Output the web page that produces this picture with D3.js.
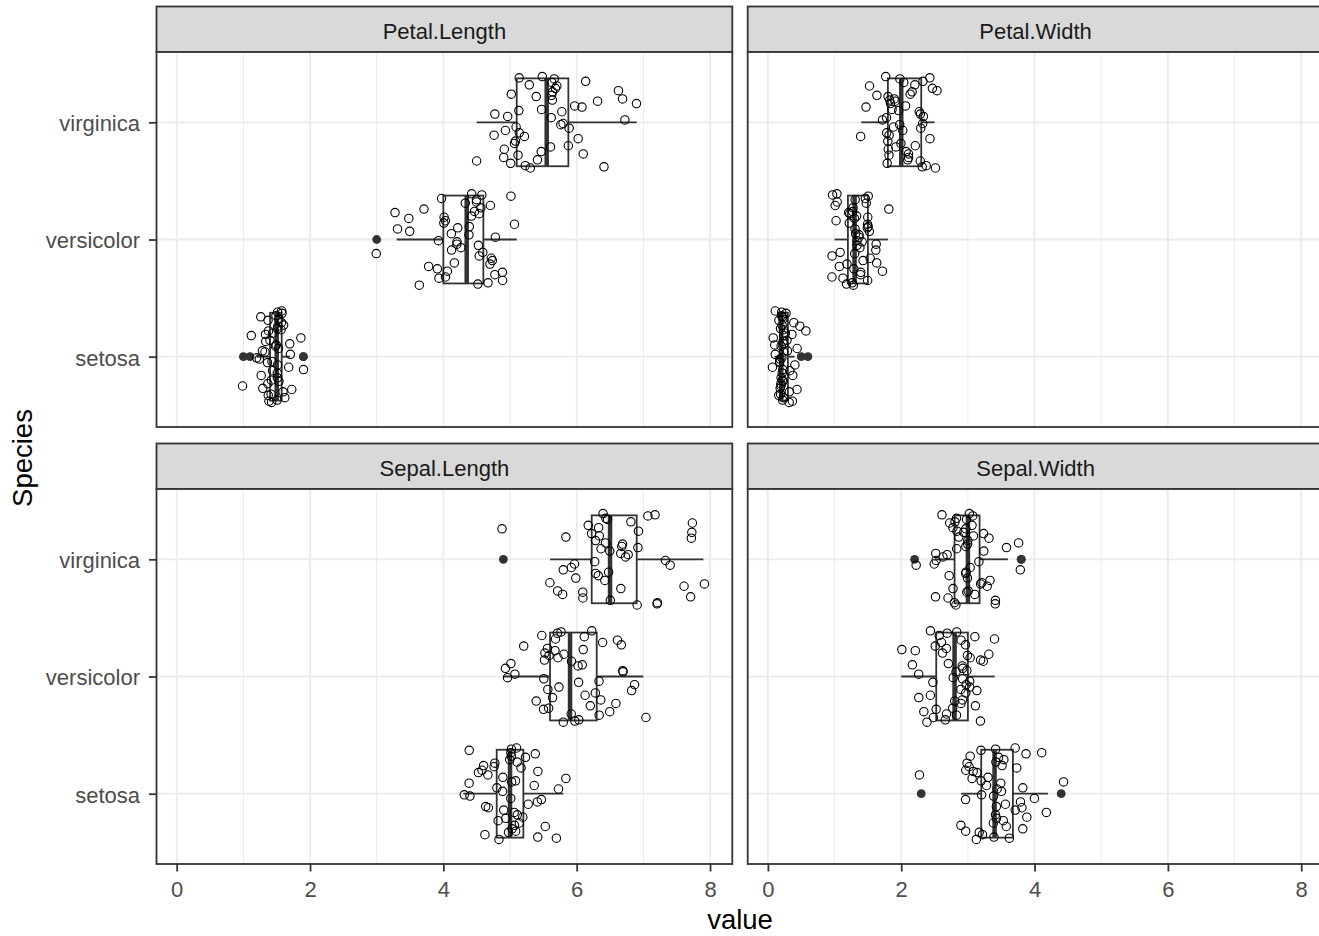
<!DOCTYPE html>
<html>
<head>
<meta charset="utf-8">
<script src="https://cdn.jsdelivr.net/npm/d3@7"></script>
<style>
  body { margin: 0; background: #fff; }
  text { font-family: "Liberation Sans", Arial, sans-serif; }
</style>
</head>
<body>
<script>
const species = ["setosa", "versicolor", "virginica"]
const measures = ["Petal.Length", "Petal.Width", "Sepal.Length", "Sepal.Width"]
const xTicks = [0, 2, 4, 6, 8]
const xMinor = [1, 3, 5, 7]

// iris: 50 filas setosa, 50 versicolor, 50 virginica
const sepalLength = [
  5.1,4.9,4.7,4.6,5.0,5.4,4.6,5.0,4.4,4.9,5.4,4.8,4.8,4.3,5.8,5.7,5.4,5.1,5.7,5.1,5.4,5.1,4.6,5.1,4.8,
  5.0,5.0,5.2,5.2,4.7,4.8,5.4,5.2,5.5,4.9,5.0,5.5,4.9,4.4,5.1,5.0,4.5,4.4,5.0,5.1,4.8,5.1,4.6,5.3,5.0,
  7.0,6.4,6.9,5.5,6.5,5.7,6.3,4.9,6.6,5.2,5.0,5.9,6.0,6.1,5.6,6.7,5.6,5.8,6.2,5.6,5.9,6.1,6.3,6.1,6.4,
  6.6,6.8,6.7,6.0,5.7,5.5,5.5,5.8,6.0,5.4,6.0,6.7,6.3,5.6,5.5,5.5,6.1,5.8,5.0,5.6,5.7,5.7,6.2,5.1,5.7,
  6.3,5.8,7.1,6.3,6.5,7.6,4.9,7.3,6.7,7.2,6.5,6.4,6.8,5.7,5.8,6.4,6.5,7.7,7.7,6.0,6.9,5.6,7.7,6.3,6.7,
  7.2,6.2,6.1,6.4,7.2,7.4,7.9,6.4,6.3,6.1,7.7,6.3,6.4,6.0,6.9,6.7,6.9,5.8,6.8,6.7,6.7,6.3,6.5,6.2,5.9
]
const sepalWidth = [
  3.5,3.0,3.2,3.1,3.6,3.9,3.4,3.4,2.9,3.1,3.7,3.4,3.0,3.0,4.0,4.4,3.9,3.5,3.8,3.8,3.4,3.7,3.6,3.3,3.4,
  3.0,3.4,3.5,3.4,3.2,3.1,3.4,4.1,4.2,3.1,3.2,3.5,3.6,3.0,3.4,3.5,2.3,3.2,3.5,3.8,3.0,3.8,3.2,3.7,3.3,
  3.2,3.2,3.1,2.3,2.8,2.8,3.3,2.4,2.9,2.7,2.0,3.0,2.2,2.9,2.9,3.1,3.0,2.7,2.2,2.5,3.2,2.8,2.5,2.8,2.9,
  3.0,2.8,3.0,2.9,2.6,2.4,2.4,2.7,2.7,3.0,3.4,3.1,2.3,3.0,2.5,2.6,3.0,2.6,2.3,2.7,3.0,2.9,2.9,2.5,2.8,
  3.3,2.7,3.0,2.9,3.0,3.0,2.5,2.9,2.5,3.6,3.2,2.7,3.0,2.5,2.8,3.2,3.0,3.8,2.6,2.2,3.2,2.8,2.8,2.7,3.3,
  3.2,2.8,3.0,2.8,3.0,2.8,3.8,2.8,2.8,2.6,3.0,3.4,3.1,3.0,3.1,3.1,3.1,2.7,3.2,3.3,3.0,2.5,3.0,3.4,3.0
]
const petalLength = [
  1.4,1.4,1.3,1.5,1.4,1.7,1.4,1.5,1.4,1.5,1.5,1.6,1.4,1.1,1.2,1.5,1.3,1.4,1.7,1.5,1.7,1.5,1.0,1.7,1.9,
  1.6,1.6,1.5,1.4,1.6,1.6,1.5,1.5,1.4,1.5,1.2,1.3,1.4,1.3,1.5,1.3,1.3,1.3,1.6,1.9,1.4,1.6,1.4,1.5,1.4,
  4.7,4.5,4.9,4.0,4.6,4.5,4.7,3.3,4.6,3.9,3.5,4.2,4.0,4.7,3.6,4.4,4.5,4.1,4.5,3.9,4.8,4.0,4.9,4.7,4.3,
  4.4,4.8,5.0,4.5,3.5,3.8,3.7,3.9,5.1,4.5,4.5,4.7,4.4,4.1,4.0,4.4,4.6,4.0,3.3,4.2,4.2,4.2,4.3,3.0,4.1,
  6.0,5.1,5.9,5.6,5.8,6.6,4.5,6.3,5.8,6.1,5.1,5.3,5.5,5.0,5.1,5.3,5.5,6.7,6.9,5.0,5.7,4.9,6.7,4.9,5.7,
  6.0,4.8,4.9,5.6,5.8,6.1,6.4,5.6,5.1,5.6,6.1,5.6,5.5,4.8,5.4,5.6,5.1,5.1,5.9,5.7,5.2,5.0,5.2,5.4,5.1
]
const petalWidth = [
  0.2,0.2,0.2,0.2,0.2,0.4,0.3,0.2,0.2,0.1,0.2,0.2,0.1,0.1,0.2,0.4,0.4,0.3,0.3,0.3,0.2,0.4,0.2,0.5,0.2,
  0.2,0.4,0.2,0.2,0.2,0.2,0.4,0.1,0.2,0.2,0.2,0.2,0.1,0.2,0.2,0.3,0.3,0.2,0.6,0.4,0.3,0.2,0.2,0.2,0.2,
  1.4,1.5,1.5,1.3,1.5,1.3,1.6,1.0,1.3,1.4,1.0,1.5,1.0,1.4,1.3,1.4,1.5,1.0,1.5,1.1,1.8,1.3,1.5,1.2,1.3,
  1.4,1.4,1.7,1.5,1.0,1.1,1.0,1.2,1.6,1.5,1.6,1.5,1.3,1.3,1.3,1.2,1.4,1.2,1.0,1.3,1.2,1.3,1.3,1.1,1.3,
  2.5,1.9,2.1,1.8,2.2,2.1,1.7,1.8,1.8,2.5,2.0,1.9,2.1,2.0,2.4,2.3,1.8,2.2,2.3,1.5,2.3,2.0,2.0,1.8,2.1,
  1.8,1.8,1.8,2.1,1.6,1.9,2.0,2.2,1.5,1.4,2.3,2.4,1.8,1.8,2.1,2.4,2.3,1.9,2.3,2.5,2.3,1.9,2.0,2.3,1.8
]
// desplazamientos del jitter (en fracciones de la banda), escritos a mano
const jitter = [
  0.31,-0.12,0.05,-0.37,0.22,-0.28,0.14,0.38,-0.05,-0.21,0.09,0.27,-0.33,0.18,-0.02,0.35,-0.16,-0.39,0.11,0.24,
  -0.09,0.32,-0.25,0.02,0.16,-0.35,0.29,-0.07,0.20,-0.30,0.37,-0.14,0.07,-0.23,0.26,-0.01,0.13,-0.38,0.34,-0.18,
  0.04,-0.27,0.19,0.39,-0.11,-0.32,0.23,-0.04,0.10,-0.20
]

const valores = {
  "Petal.Length": petalLength,
  "Petal.Width": petalWidth,
  "Sepal.Length": sepalLength,
  "Sepal.Width": sepalWidth
}

var W = 1319, H = 936
var panelW = 575.8, panelH = 375, stripH = 45.5
var colX = [156.5, 747.7]
var rowY = [6.5, 443.5]

var svg = d3.select("body").append("svg")
    .attr("width", W)
    .attr("height", H)

var x = d3.scaleLinear().domain([-0.303, 8.334]).range([0, panelW])
var y = d3.scalePoint().domain(species).range([panelH, 0]).padding(0.6)
var boxH = y.step() * 0.75

measures.forEach(function (m, k) {
    var col = k % 2, row = Math.floor(k / 2)
    var top = rowY[row]

    // strip
    svg.append("rect")
        .attr("x", colX[col]).attr("y", top)
        .attr("width", panelW).attr("height", stripH)
        .attr("fill", "#D9D9D9").attr("stroke", "#333333").attr("stroke-width", 1.8)
    svg.append("text")
        .attr("x", colX[col] + panelW / 2).attr("y", top + 32.5)
        .attr("text-anchor", "middle")
        .attr("font-size", 22).attr("fill", "#1A1A1A")
        .text(m)

    var g = svg.append("g")
        .attr("transform", "translate(" + colX[col] + "," + (top + stripH) + ")")

    // fondo y rejilla
    g.append("rect").attr("width", panelW).attr("height", panelH).attr("fill", "white")
    g.selectAll(".minor").data(xMinor).enter().append("line")
        .attr("x1", d => x(d)).attr("x2", d => x(d))
        .attr("y1", 0).attr("y2", panelH)
        .attr("stroke", "#EBEBEB").attr("stroke-width", 1)
    g.selectAll(".major").data(xTicks).enter().append("line")
        .attr("x1", d => x(d)).attr("x2", d => x(d))
        .attr("y1", 0).attr("y2", panelH)
        .attr("stroke", "#EBEBEB").attr("stroke-width", 1.8)
    g.selectAll(".hmajor").data(species).enter().append("line")
        .attr("x1", 0).attr("x2", panelW)
        .attr("y1", d => y(d)).attr("y2", d => y(d))
        .attr("stroke", "#EBEBEB").attr("stroke-width", 1.8)

    var datos = valores[m]

    // boxplots
    species.forEach(function (s, si) {
        var v = datos.slice(si * 50, si * 50 + 50).sort(d3.ascending)
        var q1 = d3.quantile(v, 0.25), med = d3.quantile(v, 0.5), q3 = d3.quantile(v, 0.75)
        var iqr = q3 - q1
        var dentro = v.filter(d => d >= q1 - 1.5 * iqr && d <= q3 + 1.5 * iqr)
        var lo = d3.min(dentro), hi = d3.max(dentro)
        var fuera = v.filter(d => d < q1 - 1.5 * iqr || d > q3 + 1.5 * iqr)
        var cy = y(s)

        g.append("line")
            .attr("x1", x(lo)).attr("x2", x(q1)).attr("y1", cy).attr("y2", cy)
            .attr("stroke", "#333333").attr("stroke-width", 1.8)
        g.append("line")
            .attr("x1", x(q3)).attr("x2", x(hi)).attr("y1", cy).attr("y2", cy)
            .attr("stroke", "#333333").attr("stroke-width", 1.8)
        g.append("rect")
            .attr("x", x(q1)).attr("y", cy - boxH / 2)
            .attr("width", x(q3) - x(q1)).attr("height", boxH)
            .attr("fill", "white").attr("stroke", "#333333").attr("stroke-width", 1.8)
        g.append("line")
            .attr("x1", x(med)).attr("x2", x(med))
            .attr("y1", cy - boxH / 2).attr("y2", cy + boxH / 2)
            .attr("stroke", "#333333").attr("stroke-width", 4.5)
        g.selectAll(null).data(fuera).enter().append("circle")
            .attr("cx", d => x(d)).attr("cy", cy)
            .attr("r", 4.4).attr("fill", "#333333")
    })

    // puntos con jitter
    g.append("g").selectAll("circle")
        .data(datos)
        .enter()
        .append("circle")
        .attr("cx", (d, i) => x(d + jitter[(i + 29 + 7 * k) % 50] * 0.1))
        .attr("cy", (d, i) => y(species[Math.floor(i / 50)]) - jitter[(i + 11 * k + 3 * Math.floor(i / 50)) % 50] * y.step())
        .attr("r", 4.2)
        .attr("fill", "none")
        .attr("stroke", "black")
        .attr("stroke-width", 1.1)

    // borde del panel
    g.append("rect").attr("width", panelW).attr("height", panelH)
        .attr("fill", "none").attr("stroke", "#333333").attr("stroke-width", 1.8)

    // ejes
    if (row == 1) {
        var ax = g.append("g")
            .attr("transform", "translate(0," + panelH + ")")
            .call(d3.axisBottom(x).tickValues(xTicks).tickSize(7.5).tickPadding(10).tickFormat(d3.format("d")))
        ax.select(".domain").remove()
        ax.selectAll("line").attr("stroke", "#333333").attr("stroke-width", 1.8)
        ax.selectAll("text").attr("fill", "#4D4D4D").attr("font-size", 22).attr("font-family", null)
    }
    if (col == 0) {
        var ay = g.append("g")
            .call(d3.axisLeft(y).tickSize(7.5).tickPadding(9))
        ay.select(".domain").remove()
        ay.selectAll("line").attr("stroke", "#333333").attr("stroke-width", 1.8)
        ay.selectAll("text").attr("fill", "#4D4D4D").attr("font-size", 22).attr("dy", "0.38em").attr("font-family", null)
    }
})

// titulos de los ejes
svg.append("text")
    .attr("x", 740).attr("y", 929)
    .attr("text-anchor", "middle")
    .attr("font-size", 27.5).attr("fill", "black")
    .text("value")
svg.append("text")
    .attr("transform", "translate(32,458) rotate(-90)")
    .attr("text-anchor", "middle")
    .attr("font-size", 27.5).attr("fill", "black")
    .text("Species")
</script>
</body>
</html>
